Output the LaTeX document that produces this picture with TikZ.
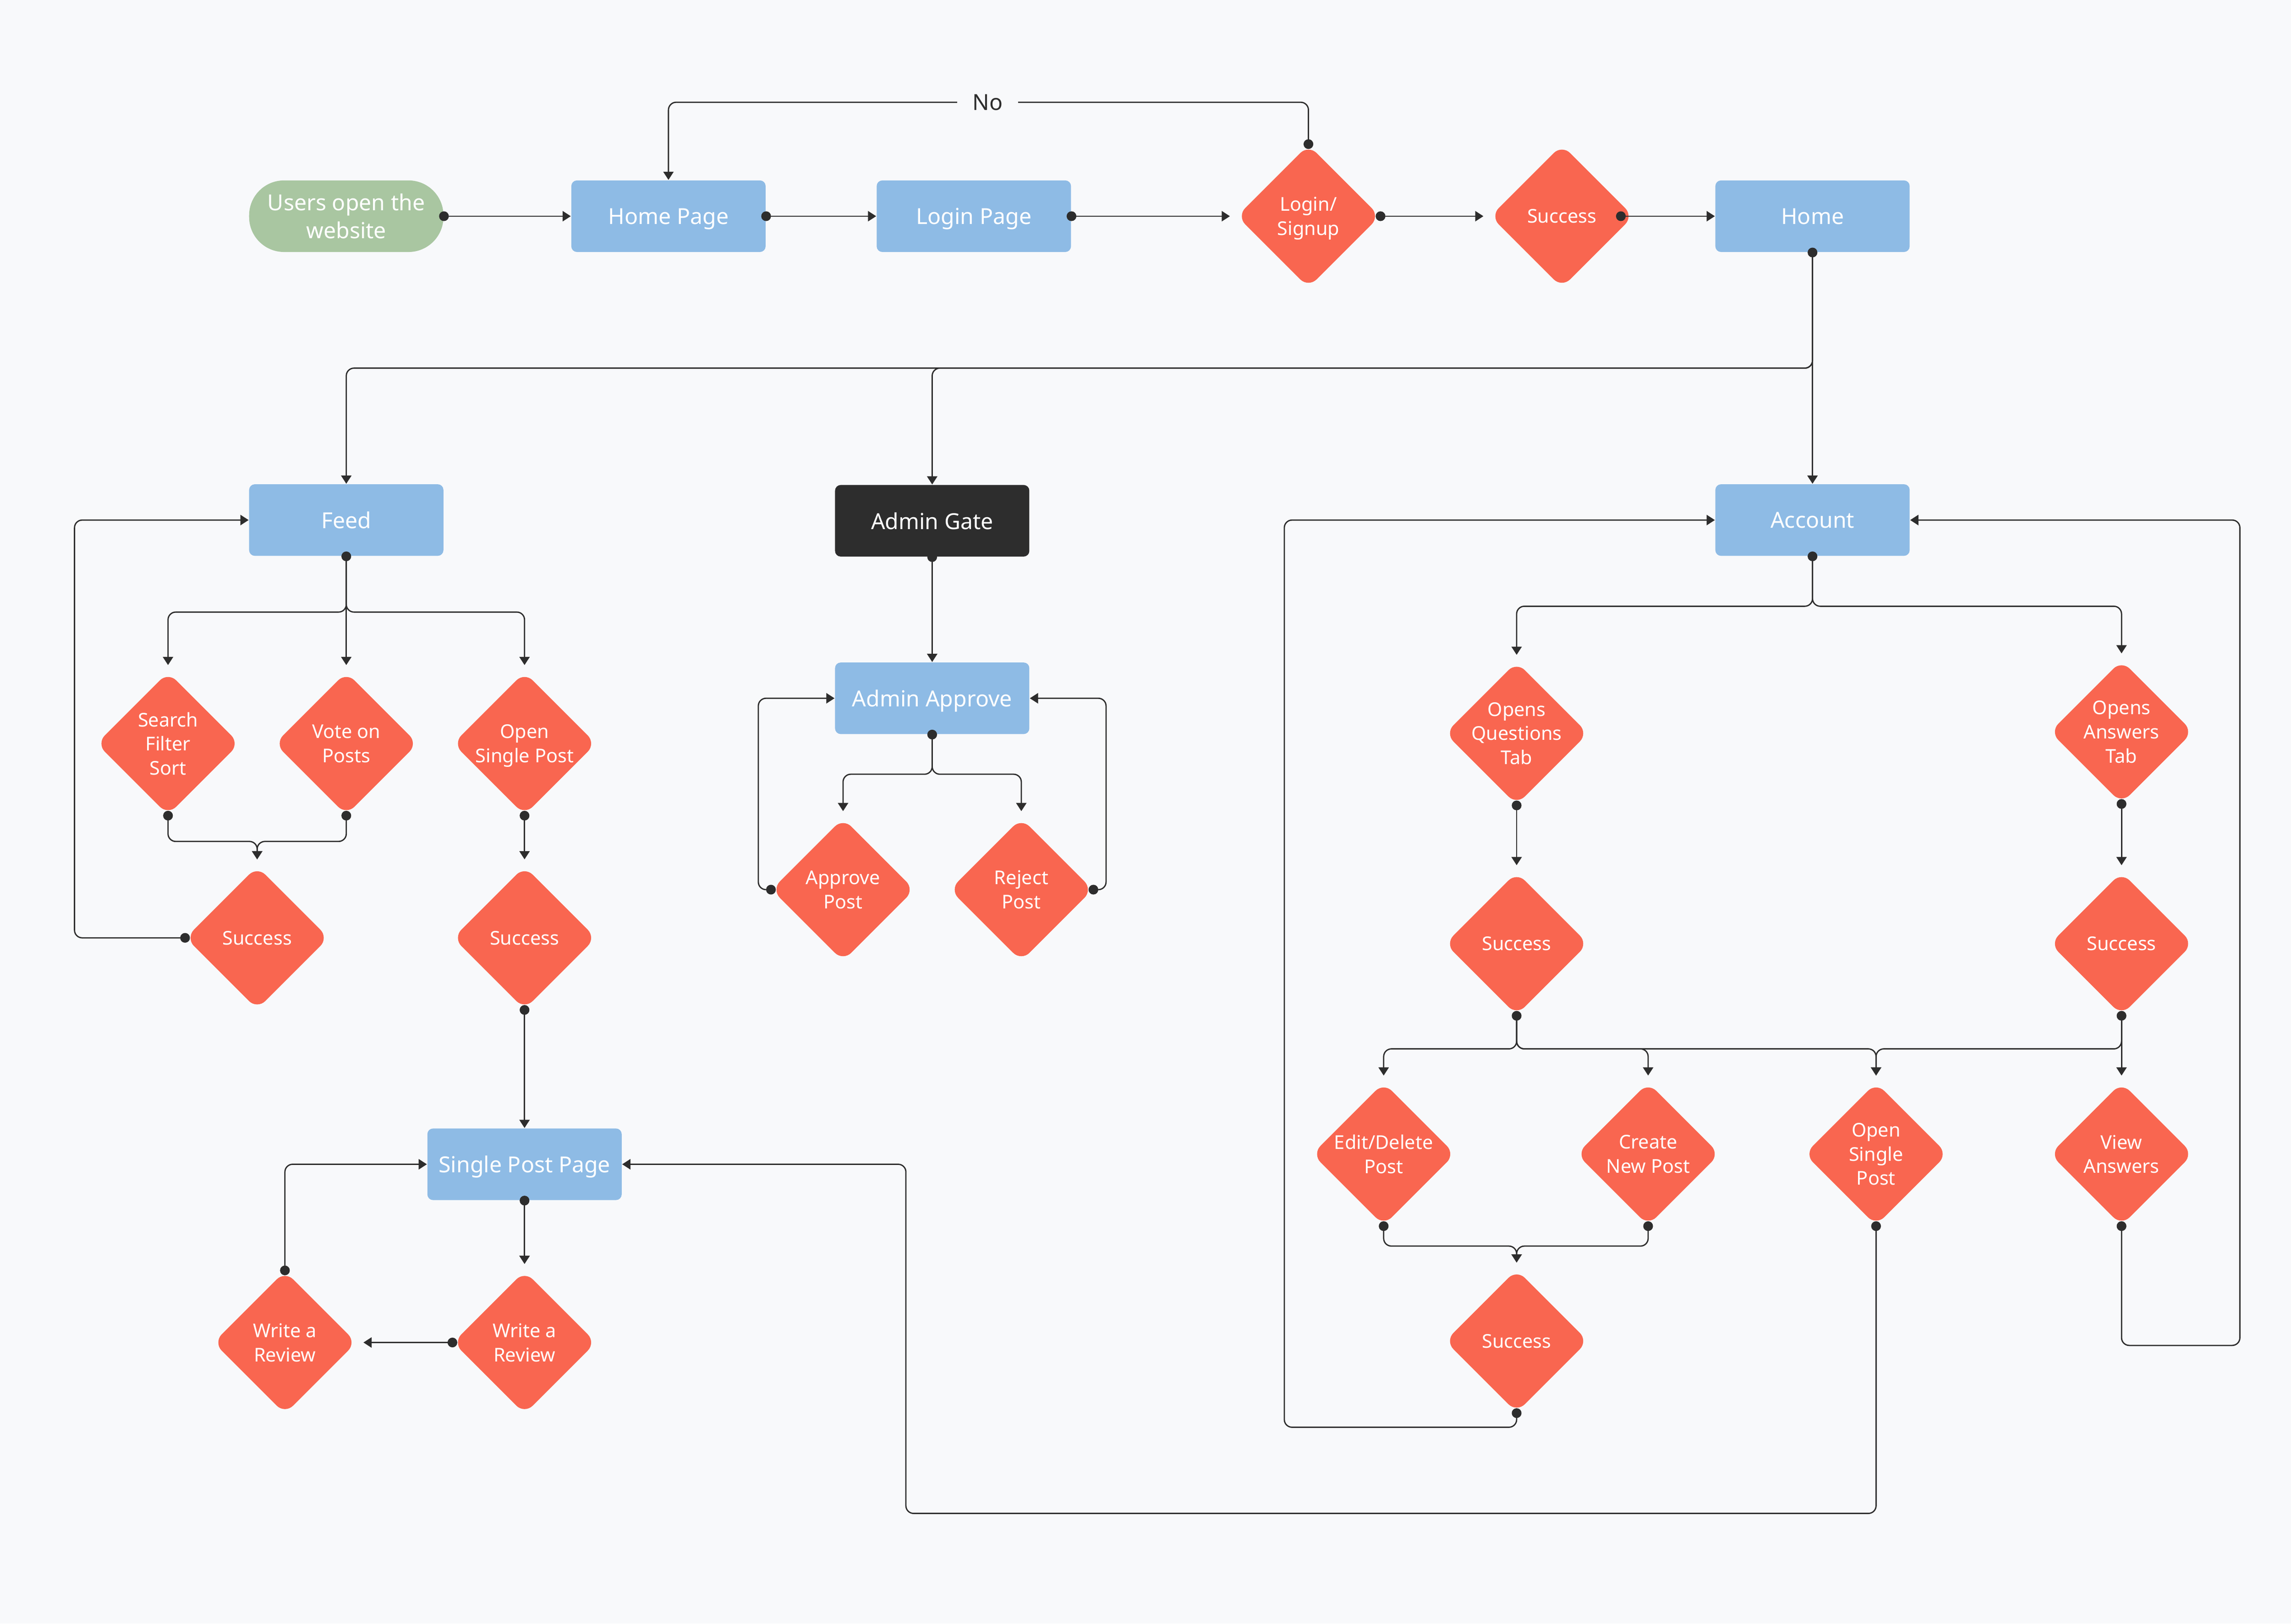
\documentclass[tikz,border=0pt]{standalone}
\usepackage{fontspec}
\setmainfont{Noto Sans}
\usetikzlibrary{shapes.geometric,arrows.meta}
\definecolor{bg}{HTML}{F8F9FB}
\definecolor{boxblue}{HTML}{8EBBE5}
\definecolor{decred}{HTML}{F96650}
\definecolor{startgreen}{HTML}{A9C6A1}
\definecolor{gatedark}{HTML}{2D2D2D}
\definecolor{ink}{HTML}{2D2D2D}
\newcommand\dotmark[1]{\fill[ink] (#1) circle (1.9pt);}
\begin{document}
\begin{tikzpicture}[x=0.02cm,y=-0.02cm,
  box/.style={rectangle, fill=boxblue, minimum width=2.66cm, minimum height=0.98cm,
    rounded corners=2.2pt, text=white, inner sep=0pt, align=center, text depth=0pt,
    font=\fontsize{8.6}{10.8}\selectfont},
  pill/.style={box, fill=startgreen, rounded corners=13.6pt},
  gate/.style={box, fill=gatedark},
  dia/.style={diamond, fill=decred, minimum width=1.96cm, minimum height=1.96cm,
    inner sep=0pt, rounded corners=4.5pt},
  dtext/.style={text=white, align=center, inner sep=0pt, text depth=0pt,
    font=\fontsize{7.4}{9.4}\selectfont},
  conn/.style={draw=ink, line width=0.5pt, rounded corners=3pt,
    -{Triangle[length=3.2pt,width=4pt]}},
  todia/.style={shorten >=2.5pt},
  nolabel/.style={fill=bg, text=ink, inner xsep=6pt, inner ysep=2pt,
    font=\fontsize{8.6}{10.8}\selectfont}
]
\fill[bg] (0,0) rectangle (1568,1111.4);
\useasboundingbox (0,0) rectangle (1568,1111.4);

% ---------- nodes ----------
\node[pill] (start) at (237,148) {Users open the\\website};
\node[box] (home) at (457.5,148) {Home Page};
\node[box] (login) at (666.5,148) {Login Page};
\node[dia] (ls) at (895.5,148) {};
\node[dtext] (ls-t) at (ls) {Login/\\Signup};
\node[dia] (succ0) at (1069,148) {};
\node[dtext] (succ0-t) at (succ0) {Success};
\node[box] (homeb) at (1240.5,148) {Home};

\node[box] (feed) at (237,356) {Feed};
\node[gate] (ag) at (638,356.5) {Admin Gate};
\node[box] (acc) at (1240.5,356) {Account};

\node[dia] (sfs) at (115,509) {};
\node[dtext] (sfs-t) at (sfs) {Search\\Filter\\Sort};
\node[dia] (vote) at (237,509) {};
\node[dtext] (vote-t) at (vote) {Vote on\\Posts};
\node[dia] (osp) at (359,509) {};
\node[dtext] (osp-t) at (osp) {Open\\Single Post};
\node[dia] (s1) at (176,642) {};
\node[dtext] (s1-t) at (s1) {Success};
\node[dia] (s2) at (359,642) {};
\node[dtext] (s2-t) at (s2) {Success};
\node[box] (spp) at (359,797) {Single Post Page};
\node[dia] (wr1) at (359,919) {};
\node[dtext] (wr1-t) at (wr1) {Write a\\Review};
\node[dia] (wr2) at (195,919) {};
\node[dtext] (wr2-t) at (wr2) {Write a\\Review};

\node[box] (aa) at (638,478) {Admin Approve};
\node[dia] (ap) at (577,609) {};
\node[dtext] (ap-t) at (ap) {Approve\\Post};
\node[dia] (rp) at (699,609) {};
\node[dtext] (rp-t) at (rp) {Reject\\Post};

\node[dia] (oqt) at (1038,502) {};
\node[dtext] (oqt-t) at (oqt) {Opens\\Questions\\Tab};
\node[dia] (oat) at (1452,501) {};
\node[dtext] (oat-t) at (oat) {Opens\\Answers\\Tab};
\node[dia] (sq) at (1038,646) {};
\node[dtext] (sq-t) at (sq) {Success};
\node[dia] (sa) at (1452,646) {};
\node[dtext] (sa-t) at (sa) {Success};
\node[dia] (ed) at (947,790) {};
\node[dtext] (ed-t) at (ed) {Edit/Delete\\Post};
\node[dia] (cn) at (1128,790) {};
\node[dtext] (cn-t) at (cn) {Create\\New Post};
\node[dia] (os) at (1284,790) {};
\node[dtext] (os-t) at (os) {Open\\Single\\Post};
\node[dia] (va) at (1452,790) {};
\node[dtext] (va-t) at (va) {View\\Answers};
\node[dia] (s3) at (1038,918) {};
\node[dtext] (s3-t) at (s3) {Success};

% ---------- connectors ----------
\draw[conn] (start.east) -- (home.west);
\draw[conn] (home.east) -- (login.west);
\draw[conn,todia] (login.east) -- (ls.west);
\draw[conn,todia] (ls.east) -- (succ0.west);
\coordinate (succ0-out) at ([xshift=-0.18cm]succ0.east);
\draw[conn] (succ0-out) -- (homeb.west);
\draw[conn] (ls.north) -- (895.5,70) -- (457.5,70) -- (home.north);
\node[nolabel] (no) at (676,70) {No};

\draw[conn] (homeb.south) -- (1240.5,252) -- (237,252) -- (feed.north);
\draw[conn] (homeb.south) -- (1240.5,252) -- (638,252) -- (ag.north);
\draw[conn] (homeb.south) -- (acc.north);

\draw[conn,todia] (feed.south) -- (237,419) -- (115,419) -- (sfs.north);
\draw[conn,todia] (feed.south) -- (vote.north);
\draw[conn,todia] (feed.south) -- (237,419) -- (359,419) -- (osp.north);
\draw[conn,todia] (sfs.south) -- (115,576) -- (176,576) -- (s1.north);
\draw[conn,todia] (vote.south) -- (237,576) -- (176,576) -- (s1.north);
\draw[conn] (s1.west) -- (51,642) -- (51,356) -- (feed.west);
\draw[conn,todia] (osp.south) -- (s2.north);
\draw[conn] (s2.south) -- (spp.north);
\draw[conn,todia] (spp.south) -- (wr1.north);
\draw[conn,todia] (wr1.west) -- (wr2.east);
\draw[conn] (wr2.north) -- (195,797) -- (spp.west);

\draw[conn] (ag.south) -- (aa.north);
\draw[conn,todia] (aa.south) -- (638,530) -- (577,530) -- (ap.north);
\draw[conn,todia] (aa.south) -- (638,530) -- (699,530) -- (rp.north);
\draw[conn] (ap.west) -- (519,609) -- (519,478) -- (aa.west);
\draw[conn] (rp.east) -- (757,609) -- (757,478) -- (aa.east);

\draw[conn,todia] (acc.south) -- (1240.5,415) -- (1038,415) -- (oqt.north);
\draw[conn,todia] (acc.south) -- (1240.5,415) -- (1452,415) -- (oat.north);
\draw[conn,todia] (oqt.south) -- (sq.north);
\draw[conn,todia] (oat.south) -- (sa.north);
\draw[conn,todia] (sq.south) -- (1038,718) -- (947,718) -- (ed.north);
\draw[conn,todia] (sq.south) -- (1038,718) -- (1128,718) -- (cn.north);
\draw[conn,todia] (sq.south) -- (1038,718) -- (1284,718) -- (os.north);
\draw[conn,todia] (sa.south) -- (1452,718) -- (1284,718) -- (os.north);
\draw[conn,todia] (sa.south) -- (va.north);
\draw[conn,todia] (ed.south) -- (947,853) -- (1038,853) -- (s3.north);
\draw[conn,todia] (cn.south) -- (1128,853) -- (1038,853) -- (s3.north);
\draw[conn] (s3.south) -- (1038,977) -- (879,977) -- (879,356) -- (acc.west);
\draw[conn] (va.south) -- (1452,921) -- (1533,921) -- (1533,356) -- (acc.east);
\draw[conn] (os.south) -- (1284,1036) -- (620,1036) -- (620,797) -- (spp.east);

% ---------- start dots ----------
\dotmark{start.east}
\dotmark{home.east}
\dotmark{login.east}
\dotmark{ls.east}
\dotmark{ls.north}
\dotmark{succ0-out}
\dotmark{homeb.south}
\dotmark{feed.south}
\dotmark{sfs.south}
\dotmark{vote.south}
\dotmark{osp.south}
\dotmark{s1.west}
\dotmark{s2.south}
\dotmark{spp.south}
\dotmark{wr1.west}
\dotmark{wr2.north}
\dotmark{ag.south}
\dotmark{aa.south}
\dotmark{ap.west}
\dotmark{rp.east}
\dotmark{acc.south}
\dotmark{oqt.south}
\dotmark{oat.south}
\dotmark{sq.south}
\dotmark{sa.south}
\dotmark{ed.south}
\dotmark{cn.south}
\dotmark{os.south}
\dotmark{va.south}
\dotmark{s3.south}
\end{tikzpicture}
\end{document}
